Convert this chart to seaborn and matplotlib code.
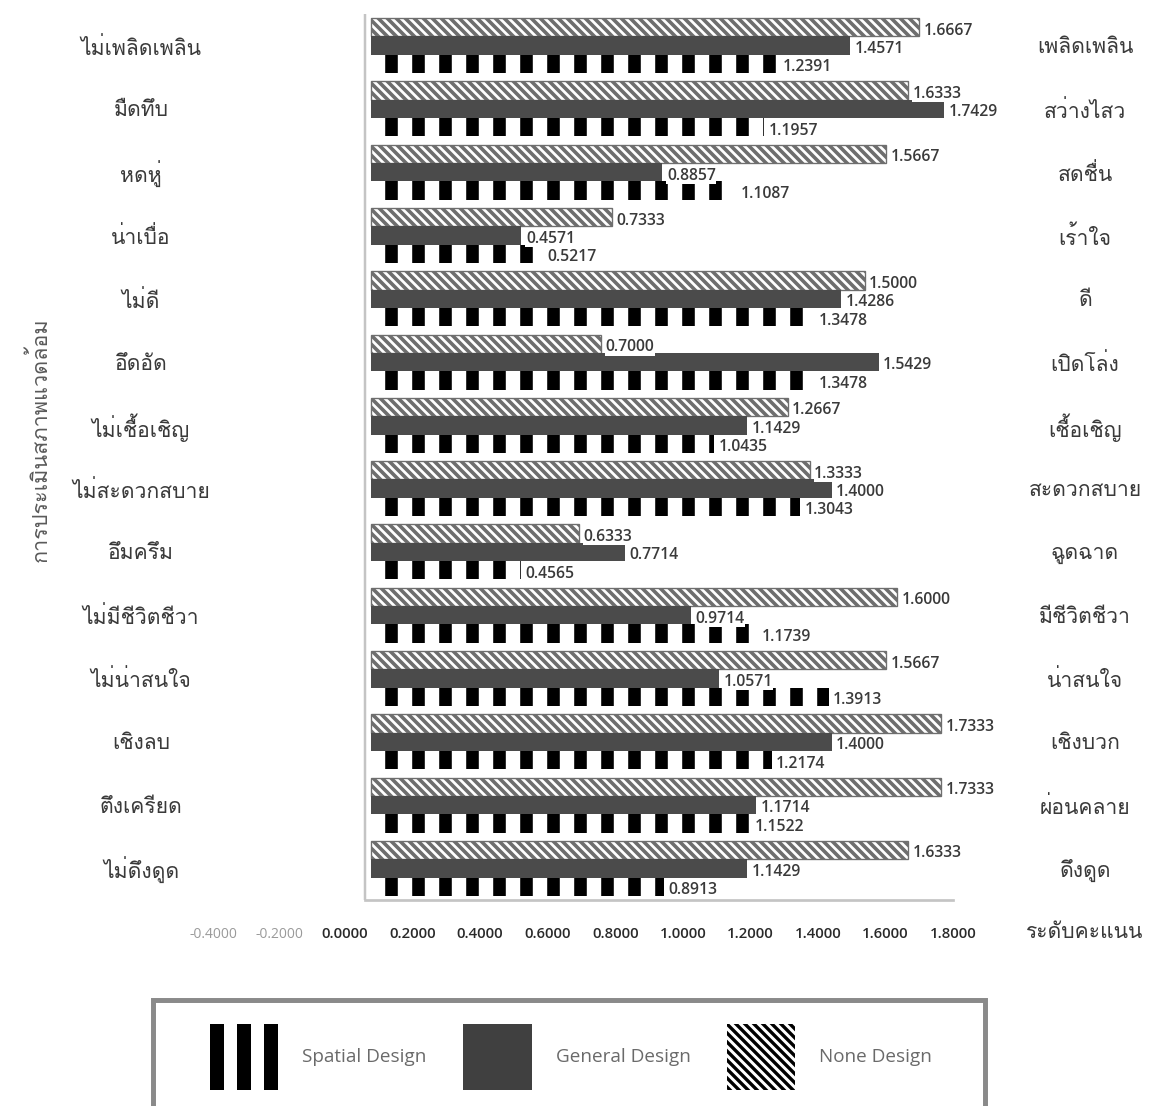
import numpy as np
import pandas as pd
import seaborn as sns
import matplotlib
matplotlib.use("Agg")
import matplotlib.pyplot as plt
from matplotlib import font_manager as fm
from matplotlib.ft2font import FT2Font
from matplotlib.patches import Rectangle
from matplotlib.transforms import ScaledTranslation
from matplotlib.legend_handler import HandlerTuple

# ---- data -------------------------------------------------------------
left_labels = ["ไม่เพลิดเพลิน", "มืดทึบ", "หดหู่", "น่าเบื่อ", "ไม่ดี", "อึดอัด",
               "ไม่เชื้อเชิญ", "ไม่สะดวกสบาย", "อึมครึม", "ไม่มีชีวิตชีวา",
               "ไม่น่าสนใจ", "เชิงลบ", "ตึงเครียด", "ไม่ดึงดูด"]
right_labels = ["เพลิดเพลิน", "สว่างไสว", "สดชื่น", "เร้าใจ", "ดี", "เปิดโล่ง",
                "เชื้อเชิญ", "สะดวกสบาย", "ฉูดฉาด", "มีชีวิตชีวา",
                "น่าสนใจ", "เชิงบวก", "ผ่อนคลาย", "ดึงดูด"]
none_design = [1.6667, 1.6333, 1.5667, 0.7333, 1.5000, 0.7000, 1.2667,
               1.3333, 0.6333, 1.6000, 1.5667, 1.7333, 1.7333, 1.6333]
general_design = [1.4571, 1.7429, 0.8857, 0.4571, 1.4286, 1.5429, 1.1429,
                  1.4000, 0.7714, 0.9714, 1.0571, 1.4000, 1.1714, 1.1429]
spatial_design = [1.2391, 1.1957, 1.1087, 0.5217, 1.3478, 1.3478, 1.0435,
                  1.3043, 0.4565, 1.1739, 1.3913, 1.2174, 1.1522, 0.8913]
x_ticks = [-0.4, -0.2, 0.0, 0.2, 0.4, 0.6, 0.8, 1.0, 1.2, 1.4, 1.6, 1.8]
series_names = ["Spatial Design", "General Design", "None Design"]
y_title = "การประเมินสภาพแวดล้อม"
x_title = "ระดับคะแนน"

df = pd.concat([
    pd.DataFrame({"item": left_labels, "score": none_design, "design": "None Design"}),
    pd.DataFrame({"item": left_labels, "score": general_design, "design": "General Design"}),
    pd.DataFrame({"item": left_labels, "score": spatial_design, "design": "Spatial Design"}),
], ignore_index=True)


def families_with(ch):
    found = []
    for f in fm.fontManager.ttflist:
        try:
            cmap = FT2Font(f.fname).get_charmap()
        except Exception:
            continue
        if ord(ch) in cmap and f.name not in found:
            found.append(f.name)
    return found


thai_fams = families_with("ก")
thai_font = "Loma" if "Loma" in thai_fams else (thai_fams[0] if thai_fams else "DejaVu Sans")
latin_font = ["Open Sans", "DejaVu Sans"]

sns.set_theme(style="white")
plt.rcParams["font.family"] = [thai_font, "DejaVu Sans"]
plt.rcParams["hatch.linewidth"] = 1.5

DPI = 162
W, H = 1152, 1106
PX_PER_UNIT = 329.0
X0_PX = 371.0                      # pixel column of score 0
XLIM = (-0.5, 1.85)
ax_left = X0_PX + XLIM[0] * PX_PER_UNIT
ax_width = (XLIM[1] - XLIM[0]) * PX_PER_UNIT

fig = plt.figure(figsize=(W / DPI, H / DPI), dpi=DPI)
ax = fig.add_axes([ax_left / W, 1 - 900 / H, ax_width / W, 886 / H])

sns.barplot(data=df, y="item", x="score", hue="design",
            hue_order=["None Design", "General Design", "Spatial Design"],
            order=left_labels, orient="h", width=0.87, saturation=1,
            palette=["white", "#4b4b4b", "white"], legend=False, ax=ax)

cont_none, cont_gen, cont_spa = ax.containers
for bar in cont_none:
    bar.set_hatch("\\" * 6)
    bar.set_edgecolor("#6e6e6e")
    bar.set_linewidth(0.6)
    if hasattr(bar, "set_hatch_linewidth"):
        bar.set_hatch_linewidth(1.6)
for bar in cont_gen:
    bar.set_linewidth(0)
for bar in cont_spa:
    bar.set_hatch("|")
    bar.set_edgecolor("black")
    bar.set_linewidth(0)
    if hasattr(bar, "set_hatch_linewidth"):
        bar.set_hatch_linewidth(5.6)

for cont in (cont_none, cont_gen, cont_spa):
    anns = ax.bar_label(cont, fmt="%.4f", padding=2, fontsize=7.0,
                        color="#3a3a3a", family=latin_font, fontweight="semibold")
    for a in anns:
        a.xyann = (2, -1.5)
        a.set_bbox(dict(facecolor="white", edgecolor="none", pad=0.2))

ax.set_xlim(*XLIM)
ax.set_ylim(13.5, -0.5)
ax.set_xlabel("")
ax.set_ylabel("")

# back wall and floor
for s in ("top", "right", "left"):
    ax.spines[s].set_visible(False)
ax.axvline(-0.018, color="#c4c4c4", linewidth=1.1, zorder=0.5)
ax.spines["bottom"].set_bounds(-0.018, 1.77)
ax.spines["bottom"].set_color("#c4c4c4")
ax.spines["bottom"].set_linewidth(1.2)

ax.set_xticks(x_ticks)
ax.set_xticklabels([f"{v:.4f}" for v in x_ticks], family=latin_font, fontsize=6.6)
ax.tick_params(axis="x", length=0, pad=12)
for v, lbl in zip(x_ticks, ax.get_xticklabels()):
    dx = -26 + 8.9 * max(v, 0)
    lbl.set_transform(lbl.get_transform() +
                      ScaledTranslation(dx / DPI, 0, fig.dpi_scale_trans))
    if v < 0:
        lbl.set_color("#9a9a9a")
        lbl.set_fontsize(6.2)
    else:
        lbl.set_color("#2a2a2a")
        lbl.set_fontweight("semibold")

ax.set_yticks(range(len(left_labels)))
ax.set_yticklabels(left_labels, fontsize=9.4, color="#3a3a3a")
left_pad_pt = (ax_left - 141) * 72 / DPI
ax.tick_params(axis="y", length=0, pad=left_pad_pt)
for lbl in ax.get_yticklabels():
    lbl.set_horizontalalignment("center")

ax2 = ax.twinx()
ax2.set_ylim(ax.get_ylim())
ax2.set_yticks(range(len(right_labels)))
ax2.set_yticklabels(right_labels, fontsize=9.4, color="#3a3a3a")
right_pad_pt = (1085 - (ax_left + ax_width)) * 72 / DPI
ax2.tick_params(axis="y", length=0, pad=right_pad_pt)
for lbl in ax2.get_yticklabels():
    lbl.set_horizontalalignment("center")
for s in ax2.spines.values():
    s.set_visible(False)

fig.text(40 / W, 1 - 440 / H, y_title, rotation=90, ha="center",
         va="center", fontsize=9.6, color="#5a5a5a")
fig.text(1085 / W, 1 - 933 / H, x_title, ha="center", va="center",
         fontsize=9.4, color="#3a3a3a")

# legend frame and entries
fig.patches.append(Rectangle((153 / W, -0.05), 832 / W, 0.05 + 106 / H,
                             transform=fig.transFigure, facecolor="white",
                             edgecolor="#8a8a8a", linewidth=2.2, zorder=0))
stripe = Rectangle((0, 0), 1, 1, facecolor="black", edgecolor="none")
general_handle = Rectangle((0, 0), 1, 1, facecolor="#404040", edgecolor="none")
none_handle = Rectangle((0, 0), 1, 1, facecolor="white", edgecolor="black",
                        linewidth=0, hatch="\\" * 6)
leg = fig.legend([(stripe, stripe, stripe), general_handle, none_handle], series_names,
                 handler_map={tuple: HandlerTuple(ndivide=None, pad=0.69)},
                 loc="center left", bbox_to_anchor=(210 / W, 1 - 1057 / H),
                 ncol=3, frameon=False, borderpad=0, borderaxespad=0,
                 handlelength=3.6, handleheight=4.92, handletextpad=1.27,
                 columnspacing=1.96, prop={"family": latin_font, "size": 8.4})
for t in leg.get_texts():
    t.set_color("#6a6a6a")
for h in leg.legend_handles:
    if hasattr(h, "set_hatch_linewidth") and h.get_hatch():
        h.set_hatch_linewidth(1.5)

fig.savefig("out.png", dpi=DPI)
